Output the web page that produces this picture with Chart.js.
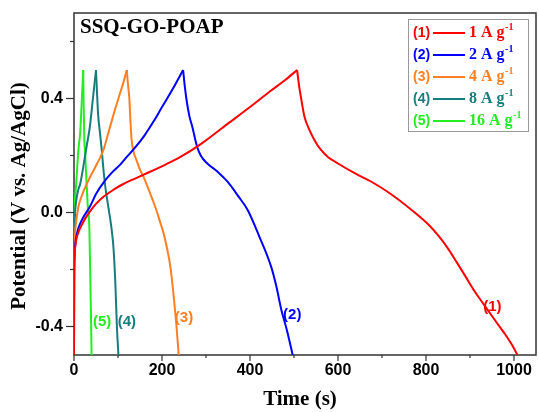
<!DOCTYPE html>
<html>
<head>
<meta charset="utf-8">
<script src="https://cdn.jsdelivr.net/npm/chart.js@4.4.1/dist/chart.umd.min.js"></script>
<style>
  body { margin: 0; background: #fff; }
  #wrap { width: 539px; height: 412px; }
</style>
</head>
<body>
<div id="wrap"><canvas id="myChart" width="539" height="412"></canvas></div>
<script>
// series names / current densities
var tags = ['(1)', '(2)', '(3)', '(4)', '(5)'];
var rates = ['1', '2', '4', '8', '16'];
var colors = ['#ff0000', '#0000ff', '#ff7f24', '#177c7c', '#22ee22'];

// (1) 1 A/g
var t1c = [0, 0.3, 1, 3, 6, 10, 14, 24, 36, 50, 67, 90, 112, 140, 173, 210, 242, 288, 349, 400, 448, 480, 507];
var v1c = [-0.5, -0.25, -0.16, -0.12, -0.09, -0.07, -0.055, -0.025, 0.003, 0.03, 0.055, 0.08, 0.1, 0.12, 0.143, 0.17, 0.195, 0.24, 0.311, 0.37, 0.428, 0.465, 0.5];
var t1d = [507, 512, 517, 524, 535, 547, 560, 577, 600, 639, 677, 720, 768, 806, 830, 852, 870, 890, 912, 936, 960, 981, 995, 1008];
var v1d = [0.5, 0.44, 0.393, 0.335, 0.29, 0.253, 0.222, 0.195, 0.172, 0.137, 0.107, 0.065, 0.008, -0.043, -0.085, -0.131, -0.175, -0.225, -0.28, -0.333, -0.385, -0.43, -0.463, -0.5];

// (2) 2 A/g
var t2c = [0, 0.3, 1, 3, 6, 10, 20, 36, 50, 67, 85, 105, 120, 140, 160, 181, 200, 225, 248];
var v2c = [-0.5, -0.25, -0.16, -0.11, -0.08, -0.055, -0.02, 0.02, 0.065, 0.105, 0.138, 0.168, 0.195, 0.23, 0.27, 0.32, 0.37, 0.435, 0.5];
var t2d = [248, 252, 256, 262, 269, 275, 280, 288, 303, 325, 349, 372, 395, 420, 448, 460, 471, 485, 497];
var v2d = [0.5, 0.44, 0.393, 0.34, 0.3, 0.26, 0.23, 0.2, 0.172, 0.145, 0.108, 0.06, 0.008, -0.08, -0.19, -0.26, -0.34, -0.42, -0.5];

// (3) 4 A/g
var t3c = [0, 0.3, 1, 3, 6, 10, 18, 29, 40, 52, 67, 80, 93, 105, 113, 120];
var v3c = [-0.5, -0.2, -0.12, -0.06, -0.02, 0.02, 0.06, 0.1, 0.135, 0.17, 0.22, 0.29, 0.36, 0.42, 0.46, 0.5];
var t3d = [120, 122, 124, 126, 128, 131, 136, 142, 150, 158, 166, 173, 181, 189, 196, 204, 212, 219, 227, 233, 238];
var v3d = [0.5, 0.46, 0.43, 0.395, 0.33, 0.254, 0.21, 0.184, 0.15, 0.125, 0.095, 0.067, 0.035, 0.0, -0.035, -0.075, -0.13, -0.19, -0.3, -0.4, -0.5];

// (4) 8 A/g
var t4c = [0, 0.3, 1, 2, 5, 9, 14, 20, 29, 36, 43, 50];
var v4c = [-0.5, -0.2, -0.08, -0.015, 0.04, 0.075, 0.1, 0.15, 0.235, 0.3, 0.4, 0.5];
var t4d = [50, 52, 55, 59, 63, 67, 72, 78, 82, 86, 90, 94, 97.5, 101];
var v4d = [0.5, 0.43, 0.34, 0.28, 0.22, 0.15, 0.08, 0.02, -0.02, -0.065, -0.13, -0.25, -0.4, -0.5];

// (5) 16 A/g
var t5c = [0, 0.3, 1, 2, 4, 7, 10, 14, 17, 21];
var v5c = [-0.5, -0.1, 0.0, 0.04, 0.08, 0.15, 0.22, 0.28, 0.37, 0.5];
var t5d = [21, 22, 23.5, 25, 28, 31, 35, 36.6, 38.5, 40];
var v5d = [0.5, 0.37, 0.25, 0.22, 0.12, 0.03, -0.06, -0.19, -0.35, -0.5];

// axis ticks
var xTicks = [0, 100, 200, 300, 400, 500, 600, 700, 800, 900, 1000];
var xMajor = [0, 200, 400, 600, 800, 1000];
var xTickLabels = ['0', '200', '400', '600', '800', '1000'];
var yTicks = [-0.4, -0.2, 0, 0.2, 0.4, 0.6];
var yMajor = [-0.4, 0, 0.4];
var yTickLabels = ['-0.4', '0.0', '0.4'];

// curve tag anchors (data coords)
var tagT = [951, 496, 250, 120, 64];
var tagV = [-0.332, -0.36, -0.37, -0.384, -0.384];

var SANS = "'Liberation Sans', Arial, sans-serif";
var SERIF = "'Liberation Serif', 'Times New Roman', serif";

function pts(ts, vs) {
  var out = [];
  for (let i = 0; i < ts.length; i++) out.push({x: ts[i], y: vs[i]});
  return out;
}

var curves = [[t1c, v1c, t1d, v1d], [t2c, v2c, t2d, v2d], [t3c, v3c, t3d, v3d], [t4c, v4c, t4d, v4d], [t5c, v5c, t5d, v5d]];
var datasets = [];
curves.forEach(function(c, i) {
  [pts(c[0], c[1]), pts(c[2], c[3])].forEach(function(d) {
    datasets.push({
      data: d,
      borderColor: colors[i],
      borderWidth: 2,
      pointRadius: 0,
      fill: false,
      cubicInterpolationMode: 'monotone'
    });
  });
});

function findIdx(arr, v) {
  for (let i = 0; i < arr.length; i++) if (Math.abs(arr[i] - v) < 1e-6) return i;
  return -1;
}

var decor = {
  id: 'decor',
  beforeDatasetsDraw: function(chart) {
    var ctx = chart.ctx, a = chart.chartArea;
    var xs = chart.scales.x, ys = chart.scales.y;
    ctx.save();
    ctx.strokeStyle = '#333';
    ctx.lineWidth = 1.5;
    ctx.strokeRect(a.left, a.top, a.right - a.left, a.bottom - a.top);
    ctx.lineWidth = 1.2;
    yTicks.forEach(function(v) {
      var y = ys.getPixelForValue(v);
      var len = findIdx(yMajor, v) >= 0 ? 8 : 4;
      ctx.beginPath(); ctx.moveTo(a.left - len, y); ctx.lineTo(a.left, y); ctx.stroke();
    });
    xTicks.forEach(function(v) {
      var x = xs.getPixelForValue(v);
      var len = findIdx(xMajor, v) >= 0 ? 6 : 3;
      ctx.beginPath(); ctx.moveTo(x, a.bottom); ctx.lineTo(x, a.bottom + len); ctx.stroke();
    });
    ctx.restore();
  },
  afterDraw: function(chart) {
    var ctx = chart.ctx;
    var xs = chart.scales.x, ys = chart.scales.y;
    ctx.save();
    // panel title
    ctx.fillStyle = '#000';
    ctx.font = 'bold 21px ' + SERIF;
    ctx.textAlign = 'left';
    ctx.textBaseline = 'middle';
    ctx.fillText('SSQ-GO-POAP', 80, 28);

    // axis titles
    ctx.font = 'bold 21px ' + SERIF;
    ctx.textAlign = 'center';
    ctx.fillText('Time (s)', 300, 400);
    ctx.save();
    ctx.translate(20, 196);
    ctx.rotate(-Math.PI / 2);
    ctx.fillText('Potential (V vs. Ag/AgCl)', 0, 0);
    ctx.restore();

    // curve tags
    ctx.font = 'bold 15px ' + SANS;
    tags.forEach(function(t, i) {
      ctx.fillStyle = colors[i];
      ctx.fillText(t, xs.getPixelForValue(tagT[i]), ys.getPixelForValue(tagV[i]));
    });

    // legend
    ctx.fillStyle = '#fff';
    ctx.fillRect(408, 19, 120, 112);
    ctx.strokeStyle = '#999';
    ctx.lineWidth = 1;
    ctx.strokeRect(408.5, 19.5, 120, 112);
    ctx.textAlign = 'left';
    tags.forEach(function(t, i) {
      var y = 33 + i * 22;
      ctx.fillStyle = colors[i];
      ctx.strokeStyle = colors[i];
      ctx.font = 'bold 14px ' + SANS;
      ctx.fillText(t, 413, y);
      ctx.lineWidth = 2;
      ctx.beginPath(); ctx.moveTo(433, y); ctx.lineTo(465, y); ctx.stroke();
      ctx.font = 'bold 16px ' + SERIF;
      var s = rates[i] + ' A g';
      ctx.fillText(s, 469, y);
      var w = ctx.measureText(s).width;
      ctx.font = 'bold 10px ' + SERIF;
      ctx.fillText('-1', 469 + w + 0.5, y - 6);
    });
    ctx.restore();
  }
};

var ctx = document.getElementById('myChart').getContext('2d');
var myChart = new Chart(ctx, {
  type: 'line',
  data: { datasets: datasets },
  options: {
    responsive: false,
    animation: false,
    layout: { padding: { top: 13, right: 3, left: 0, bottom: 0 } },
    plugins: { legend: { display: false }, tooltip: { enabled: false } },
    scales: {
      x: {
        type: 'linear',
        min: 0,
        max: 1050,
        grid: { display: false, drawTicks: false },
        border: { display: false },
        afterBuildTicks: function(s) { s.ticks = xTicks.map(function(v) { return {value: v}; }); },
        afterFit: function(s) { s.height = 57; s.paddingLeft = 0; s.paddingRight = 0; },
        ticks: {
          autoSkip: false,
          maxRotation: 0,
          padding: 6,
          color: '#000',
          font: { family: SANS, size: 16, weight: 'bold' },
          callback: function(v) { var i = findIdx(xMajor, v); return i >= 0 ? xTickLabels[i] : ''; }
        }
      },
      y: {
        min: -0.5,
        max: 0.7,
        grid: { display: false, drawTicks: false },
        border: { display: false },
        afterBuildTicks: function(s) { s.ticks = yTicks.map(function(v) { return {value: v}; }); },
        afterFit: function(s) { s.width = 74; s.paddingTop = 0; s.paddingBottom = 0; },
        ticks: {
          autoSkip: false,
          padding: 11,
          color: '#000',
          font: { family: SANS, size: 16, weight: 'bold' },
          callback: function(v) { var i = findIdx(yMajor, v); return i >= 0 ? yTickLabels[i] : ''; }
        }
      }
    }
  },
  plugins: [decor]
});
</script>
</body>
</html>
